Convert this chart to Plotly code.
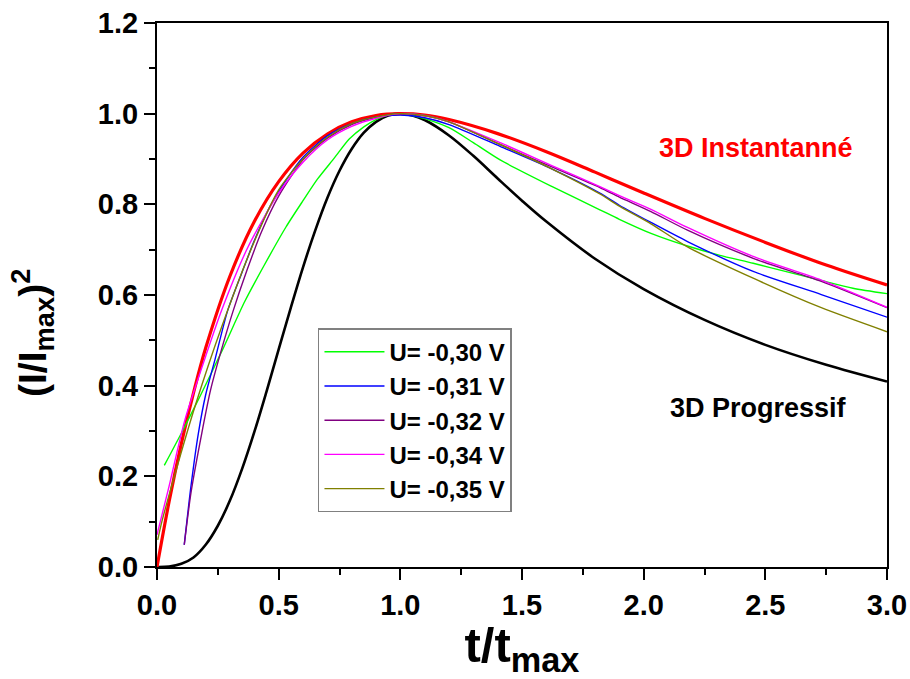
import plotly.graph_objects as go

# Theoretical 3D instantaneous nucleation (red)
inst_x = [0.0, 0.05, 0.1, 0.15, 0.2, 0.3, 0.4, 0.5, 0.6, 0.7, 0.8, 0.9, 1.0,
          1.1, 1.2, 1.4, 1.6, 1.8, 2.0, 2.25, 2.5, 2.75, 3.0]
inst_y = [0.0, 0.145, 0.272, 0.384, 0.483, 0.642, 0.762, 0.850, 0.913, 0.955,
          0.982, 0.996, 1.000, 0.997, 0.987, 0.956, 0.916, 0.871, 0.825,
          0.769, 0.716, 0.666, 0.622]

# Theoretical 3D progressive nucleation (black)
prog_x = [0.0, 0.05, 0.1, 0.15, 0.2, 0.25, 0.3, 0.35, 0.4, 0.45, 0.5, 0.55,
          0.6, 0.65, 0.7, 0.75, 0.8, 0.85, 0.9, 0.95, 1.0, 1.05, 1.1, 1.2,
          1.3, 1.4, 1.5, 1.6, 1.8, 2.0, 2.25, 2.5, 2.75, 3.0]
prog_y = [0.0, 0.001, 0.007, 0.021, 0.049, 0.091, 0.147, 0.217, 0.298,
          0.387, 0.480, 0.572, 0.661, 0.742, 0.814, 0.874, 0.922, 0.958,
          0.982, 0.996, 1.000, 0.996, 0.986, 0.952, 0.907, 0.857, 0.808,
          0.762, 0.680, 0.613, 0.545, 0.490, 0.446, 0.409]

# Experimental transients
u30_x = [0.03, 0.10, 0.18, 0.27, 0.36, 0.44, 0.53, 0.60, 0.66, 0.73, 0.79,
         0.85, 0.90, 0.95, 1.0, 1.05, 1.1, 1.2, 1.3, 1.41, 1.62, 1.82, 1.9,
         2.03, 2.18, 2.31, 2.45, 2.59, 2.73, 2.86, 3.0]
u30_y = [0.224, 0.295, 0.38, 0.48, 0.585, 0.665, 0.750, 0.808, 0.856, 0.903,
         0.944, 0.971, 0.987, 0.997, 1.0, 0.996, 0.989, 0.969, 0.936, 0.898,
         0.840, 0.788, 0.767, 0.736, 0.708, 0.688, 0.670, 0.651, 0.632,
         0.615, 0.603]

u31_x = [0.112, 0.14, 0.17, 0.2, 0.238, 0.29, 0.348, 0.40, 0.464, 0.52, 0.6,
         0.7, 0.8, 0.9, 1.0, 1.1, 1.2, 1.41, 1.62, 1.82, 1.9, 2.03, 2.18,
         2.45, 2.73, 3.0]
u31_y = [0.049, 0.18, 0.295, 0.38, 0.457, 0.565, 0.648, 0.72, 0.795, 0.845,
         0.904, 0.951, 0.978, 0.993, 0.997, 0.991, 0.976, 0.928, 0.879,
         0.825, 0.798, 0.760, 0.718, 0.652, 0.601, 0.551]

u32_x = [0.112, 0.14, 0.184, 0.22, 0.26, 0.31, 0.37, 0.43, 0.5, 0.6, 0.7,
         0.8, 0.9, 1.0, 1.1, 1.2, 1.41, 1.62, 1.82, 1.9, 2.03, 2.18, 2.45,
         2.73, 3.0]
u32_y = [0.049, 0.165, 0.295, 0.39, 0.47, 0.56, 0.655, 0.74, 0.818, 0.898,
         0.946, 0.976, 0.992, 1.0, 0.996, 0.982, 0.932, 0.883, 0.837, 0.816,
         0.784, 0.743, 0.681, 0.630, 0.572]

u34_x = [0.0, 0.046, 0.115, 0.2, 0.266, 0.375, 0.5, 0.6, 0.7, 0.8, 0.9, 1.0,
         1.1, 1.2, 1.41, 1.62, 1.82, 1.9, 2.03, 2.18, 2.45, 2.73, 3.0]
u34_y = [0.071, 0.17, 0.325, 0.465, 0.567, 0.707, 0.825, 0.893, 0.942,
         0.972, 0.99, 1.0, 0.996, 0.982, 0.936, 0.886, 0.839, 0.819, 0.789,
         0.749, 0.685, 0.633, 0.573]

u35_x = [0.003, 0.02, 0.074, 0.156, 0.266, 0.403, 0.5, 0.6, 0.7, 0.8, 0.9,
         1.0, 1.1, 1.2, 1.41, 1.62, 1.82, 1.9, 2.03, 2.18, 2.45, 2.73, 3.0]
u35_y = [0.06, 0.10, 0.205, 0.354, 0.53, 0.722, 0.832, 0.900, 0.948, 0.978,
         0.993, 1.0, 0.996, 0.982, 0.932, 0.879, 0.823, 0.796, 0.757, 0.706,
         0.637, 0.572, 0.519]

series = [
    ("U= -0,30 V", u30_x, u30_y, "#00ff00"),
    ("U= -0,31 V", u31_x, u31_y, "#0000ff"),
    ("U= -0,32 V", u32_x, u32_y, "#800080"),
    ("U= -0,34 V", u34_x, u34_y, "#ff00ff"),
    ("U= -0,35 V", u35_x, u35_y, "#808000"),
]

FONT = "Liberation Sans, Arial, sans-serif"

fig = go.Figure()

fig.add_trace(go.Scatter(x=prog_x, y=prog_y, mode="lines", showlegend=False,
                         line=dict(color="black", width=2.6, shape="spline")))
fig.add_trace(go.Scatter(x=inst_x, y=inst_y, mode="lines", showlegend=False,
                         line=dict(color="#ff0000", width=3.2, shape="spline")))
for name, xs, ys, col in series:
    fig.add_trace(go.Scatter(x=xs, y=ys, mode="lines", name=name,
                             line=dict(color=col, width=1.4, shape="spline",
                                       smoothing=0.7)))

fig.add_annotation(x=2.462, y=0.925, text="<b>3D Instantanné</b>", showarrow=False,
                   font=dict(family=FONT, size=27, color="#ff0000"))
fig.add_annotation(x=2.47, y=0.35, text="<b>3D Progressif</b>", showarrow=False,
                   font=dict(family=FONT, size=27, color="black"))

# y-axis title
fig.add_annotation(xref="paper", yref="paper", x=-0.17, y=0.43,
                   xanchor="center", yanchor="middle", textangle=-90,
                   text="<b>(I/I<sub>max</sub>)<sup>2</sup></b>", showarrow=False,
                   font=dict(family=FONT, size=39, color="black"))

axis_common = dict(
    showline=True, linecolor="black", linewidth=2, mirror=True,
    ticks="outside", ticklen=11, tickwidth=2, tickcolor="black",
    showgrid=False, zeroline=False, automargin=False,
    tickfont=dict(family=FONT, size=29, color="black", weight="bold"),
)

fig.update_xaxes(range=[0, 3.0], tick0=0, dtick=0.5, tickformat=".1f",
                 minor=dict(ticks="outside", ticklen=6, tickwidth=2,
                            tickcolor="black", dtick=0.25),
                 title=dict(text="<b>t/t<sub>max</sub></b>", standoff=0,
                            font=dict(family=FONT, size=49, color="black")),
                 **axis_common)
fig.update_yaxes(range=[0, 1.2], tick0=0, dtick=0.2, tickformat=".1f",
                 minor=dict(ticks="outside", ticklen=6, tickwidth=2,
                            tickcolor="black", dtick=0.1),
                 **axis_common)

fig.update_layout(
    width=910, height=679,
    margin=dict(l=157, r=23, t=23, b=112),
    plot_bgcolor="white", paper_bgcolor="white",
    legend=dict(x=0.2205, y=0.439, xanchor="left", yanchor="top",
                bgcolor="white", bordercolor="#808080", borderwidth=1.5,
                itemwidth=60,
                font=dict(family=FONT, size=24, color="black", weight="bold")),
)

fig.write_html("out.html")
